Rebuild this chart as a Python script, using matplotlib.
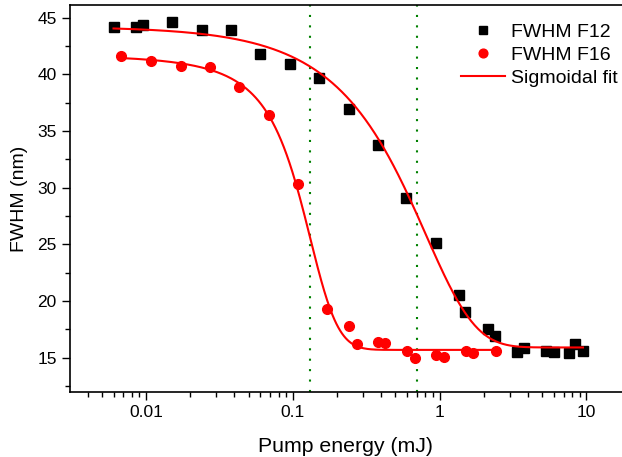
import numpy as np
import matplotlib.pyplot as plt
from matplotlib.ticker import LogLocator, MultipleLocator, NullFormatter

plt.rcParams['font.family'] = ['Liberation Sans', 'DejaVu Sans']

# FWHM F12 (black squares)
f12_energy = [0.0060, 0.0086, 0.0096, 0.0151, 0.024, 0.038, 0.060, 0.096, 0.151,
              0.242, 0.379, 0.593, 0.945, 1.35, 1.50, 2.13, 2.40, 3.37, 3.78,
              5.31, 5.98, 7.57, 8.41, 9.49]
f12_fwhm = [44.2, 44.2, 44.3, 44.6, 43.9, 43.9, 41.8, 40.9, 39.7,
            36.9, 33.8, 29.1, 25.1, 20.5, 19.0, 17.5, 16.9, 15.5, 15.9,
            15.6, 15.5, 15.4, 16.2, 15.6]

# FWHM F16 (red circles)
f16_energy = [0.0068, 0.0108, 0.0172, 0.0273, 0.0433, 0.0683, 0.108, 0.171,
              0.242, 0.272, 0.380, 0.428, 0.600, 0.676, 0.950, 1.077, 1.51,
              1.70, 2.42]
f16_fwhm = [41.6, 41.2, 40.7, 40.6, 38.9, 36.4, 30.3, 19.3,
            17.8, 16.2, 16.4, 16.3, 15.6, 15.0, 15.2, 15.1, 15.6,
            15.4, 15.6]

# threshold markers (mJ)
thresholds = [0.13, 0.70]


def boltzmann_fit(x, y):
    # sigmoidal (Boltzmann) fit: grid over x0/dx, linear least squares for A1/A2
    x = np.asarray(x)
    y = np.asarray(y)
    best = None
    for x0 in np.logspace(-2, 1, 300):
        for dx in np.logspace(-3, 1, 300):
            s = 1.0 / (1.0 + np.exp(np.clip((x - x0) / dx, -50, 50)))
            M = np.column_stack([np.ones_like(s), s])
            coef, *_ = np.linalg.lstsq(M, y, rcond=None)
            err = np.sum((M @ coef - y) ** 2)
            if best is None or err < best[0]:
                best = (err, x0, dx, coef)
    _, x0, dx, coef = best
    xs = np.logspace(np.log10(x.min()), np.log10(x.max()), 400)
    s = 1.0 / (1.0 + np.exp(np.clip((xs - x0) / dx, -50, 50)))
    return xs, coef[0] + coef[1] * s


fig = plt.figure(figsize=(6.22, 4.57), dpi=100)
ax = fig.add_axes([0.1125, 0.142, 0.8875, 0.847])

for t in thresholds:
    ax.axvline(t, color='#008000', linestyle=(0, (1, 4)), linewidth=1.5, zorder=1)

ax.plot(f12_energy, f12_fwhm, linestyle='none', marker='s', markersize=6.5,
        color='black', label='FWHM F12', zorder=3)
ax.plot(f16_energy, f16_fwhm, linestyle='none', marker='o', markersize=7,
        color='#ff0000', label='FWHM F16', zorder=3)

xs, ys = boltzmann_fit(f12_energy, f12_fwhm)
ax.plot(xs, ys, color='#ff0000', linewidth=1.5, label='Sigmoidal fit', zorder=4)
xs, ys = boltzmann_fit(f16_energy, f16_fwhm)
ax.plot(xs, ys, color='#ff0000', linewidth=1.5, zorder=4)

ax.set_xscale('log')
ax.set_xlim(0.00303, 17.5)
ax.set_ylim(11.97, 46.1)
ax.set_xticks([0.01, 0.1, 1, 10])
ax.set_xticklabels(['0.01', '0.1', '1', '10'])
ax.xaxis.set_minor_locator(LogLocator(base=10, subs=np.arange(2, 10)))
ax.xaxis.set_minor_formatter(NullFormatter())
ax.yaxis.set_major_locator(MultipleLocator(5))
ax.yaxis.set_minor_locator(MultipleLocator(2.5))

ax.spines['right'].set_visible(False)
for sp in ax.spines.values():
    sp.set_linewidth(1.2)
ax.tick_params(which='major', direction='out', length=5.5, width=1, labelsize=12.5, pad=4)
ax.tick_params(which='minor', direction='out', length=3.5, width=1)
ax.tick_params(axis='y', which='both', right=False)

ax.set_xlabel('Pump energy (mJ)', fontsize=15.3, labelpad=12)
ax.set_ylabel('FWHM (nm)', fontsize=14, labelpad=7)

ax.legend(loc='upper left', frameon=False, fontsize=14, handlelength=2.3,
          handletextpad=0.3, labelspacing=0.27, borderaxespad=0,
          bbox_to_anchor=(0.728, 0.966), bbox_transform=fig.transFigure,
          markerscale=0.9)

fig.savefig('out.png', dpi=100)
